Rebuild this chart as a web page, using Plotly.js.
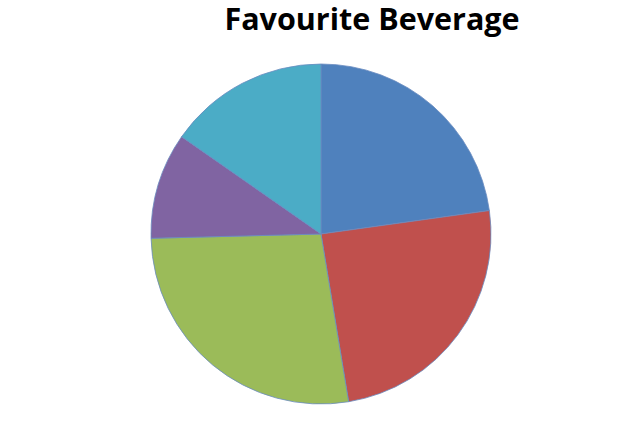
<!DOCTYPE html>
<html>
<head>
<meta charset="utf-8">
<script src="https://cdn.plot.ly/plotly-3.0.1.min.js"></script>
<style>html,body{margin:0;padding:0;background:#fff;}#chart{width:636px;height:423px;}</style>
</head>
<body>
<div id="chart"></div>
<script>
var beverages = ["Coffee", "Tea", "Juice", "Soda", "Water"];
var shares = [22.8, 24.6, 27.2, 10.1, 15.3];
var sliceColors = ["#4F81BD", "#C0504D", "#9BBB59", "#8064A2", "#4BACC6"];

var trace = {
  type: "pie",
  labels: beverages,
  values: shares,
  sort: false,
  direction: "clockwise",
  rotation: 0,
  textinfo: "none",
  showlegend: false,
  marker: {colors: sliceColors, line: {color: "#6a8cc0", width: 0.8}},
  domain: {x: [151/636, 491/636], y: [19/423, 359/423]}
};

var layout = {
  width: 636,
  height: 423,
  margin: {l: 0, r: 0, t: 0, b: 0},
  paper_bgcolor: "#ffffff",
  title: {
    text: "<b>Favourite Beverage</b>",
    font: {family: "Open Sans, sans-serif", size: 30.5, color: "#000000"},
    x: 372/636, xanchor: "center", xref: "paper",
    y: 1 - 19/423, yanchor: "middle", yref: "container"
  }
};

Plotly.newPlot("chart", [trace], layout, {displayModeBar: false, staticPlot: true});
</script>
</body>
</html>
